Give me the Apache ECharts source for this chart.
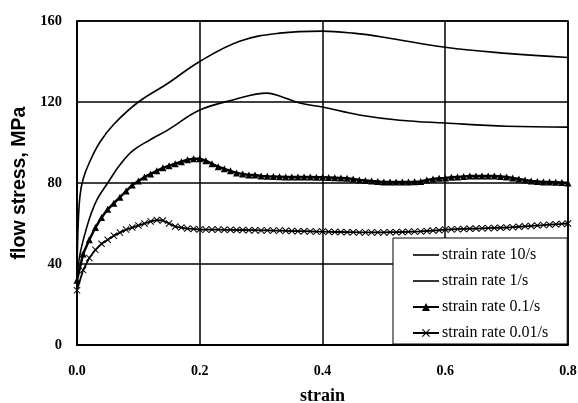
<!DOCTYPE html>
<html><head><meta charset="utf-8">
<script src="https://cdn.jsdelivr.net/npm/echarts@6/dist/echarts.min.js"></script>
<style>html,body{margin:0;padding:0;background:#fff}#c{width:578px;height:403px}</style>
</head><body><div id="c"></div>
<script>
const seriesNames = ['strain rate 10/s','strain rate 1/s','strain rate 0.1/s','strain rate 0.01/s'];
const xTicks = ['0.0','0.2','0.4','0.6','0.8'];
const yTicks = [0,40,80,120,160];

const rate10 = [[0,36],[0.002,60],[0.005,74],[0.01,82],[0.02,90],[0.037,100],[0.06,109],[0.1,120],[0.147,129],[0.2,140],[0.265,150],[0.33,154],[0.4,155],[0.45,154],[0.5,152],[0.6,147],[0.7,144],[0.8,142]];
const rate1 = [[0,34],[0.005,45],[0.013,55],[0.022,64],[0.033,72],[0.05,80],[0.07,89],[0.091,96],[0.12,101.5],[0.147,106],[0.2,116],[0.254,121],[0.31,124.4],[0.33,123],[0.363,119.5],[0.4,117.5],[0.46,113.6],[0.526,111],[0.6,109.6],[0.7,108],[0.8,107.6]];
const strain001 = [];
for (let i = 0; i <= 80; i++) strain001.push(+(i/100).toFixed(2));
const rate01 = [32,45,52,58,63,67,70,73,76,79,81,83,84.5,86,87.5,88.5,89.5,90.5,91.5,92,92,91,89.5,88,87,86,85,84.5,84,84,83.5,83.3,83.2,83.1,83,83,83,83,83,82.9,82.8,82.7,82.6,82.5,82.3,82,81.5,81.2,81,80.8,80.5,80.5,80.5,80.5,80.5,80.6,80.8,81.5,82,82.3,82.5,82.8,83,83.2,83.4,83.5,83.5,83.5,83.4,83.2,83,82.5,82,81.5,81,80.8,80.5,80.5,80.4,80.2,80];
const rate001 = [27,37,43,47,50,52,54,55.5,57,58,59,60,61,61.7,61.5,60,58.5,58,57.5,57.3,57,57,57,57,56.9,56.9,56.8,56.8,56.7,56.7,56.6,56.6,56.5,56.5,56.4,56.3,56.2,56.2,56.1,56,56,55.9,55.8,55.8,55.7,55.7,55.6,55.6,55.6,55.6,55.6,55.7,55.7,55.8,55.9,56,56.1,56.3,56.5,56.7,57,57.1,57.2,57.3,57.4,57.5,57.6,57.7,57.8,57.9,58,58.2,58.4,58.6,58.8,59,59.2,59.4,59.6,59.8,60];

const serif = '"Liberation Serif","DejaVu Serif",serif';
const sans = '"Liberation Sans","DejaVu Sans",sans-serif';
const lineIcon = 'path://M0,0L26,0L26,1.6L0,1.6Z';
const chart = echarts.init(document.getElementById('c'));
chart.setOption({
  animation:false,
  backgroundColor:'#fff',
  grid:{left:77,right:10,top:21,bottom:58,show:true,borderColor:'#000',borderWidth:1.5,
    containLabel:false,outerBoundsMode:'none'},
  xAxis:{type:'value',min:0,max:0.8,interval:0.2,
    name:'strain',nameLocation:'middle',nameGap:42,
    nameTextStyle:{fontFamily:serif,fontWeight:'bold',fontSize:18,color:'#000'},
    axisLine:{lineStyle:{color:'#000',width:1.5}},axisTick:{show:false},
    axisLabel:{fontFamily:serif,fontWeight:'bold',fontSize:14,color:'#000',margin:19,
      formatter:v=>xTicks[Math.round(v/0.2)]},
    splitLine:{show:true,lineStyle:{color:'#000',width:1.5}}},
  yAxis:{type:'value',min:0,max:160,interval:40,
    name:'flow stress, MPa',nameLocation:'middle',nameGap:44,
    nameTextStyle:{fontFamily:sans,fontWeight:'bold',fontSize:19.5,color:'#000'},
    axisLine:{show:true,lineStyle:{color:'#000',width:1.5}},axisTick:{show:false},
    axisLabel:{fontFamily:serif,fontWeight:'bold',fontSize:14.5,color:'#000',margin:15,
      formatter:v=>String(yTicks[Math.round(v/40)])},
    splitLine:{show:true,lineStyle:{color:'#000',width:1.5}}},
  legend:{orient:'vertical',left:393,top:238,
    backgroundColor:'#fff',borderColor:'#000',borderWidth:1,
    padding:[9,19,3,19],itemGap:10,itemWidth:26,itemHeight:10,
    textStyle:{fontFamily:serif,fontSize:16,color:'#000',padding:[0,0,0,-2]},
    data:[{name:seriesNames[0],icon:lineIcon},{name:seriesNames[1],icon:lineIcon},
      {name:seriesNames[2]},{name:seriesNames[3]}]},
  series:[
    {name:seriesNames[0],type:'line',data:rate10,smooth:0.4,showSymbol:false,symbol:'none',
      lineStyle:{color:'#000',width:1.6},itemStyle:{color:'#000'}},
    {name:seriesNames[1],type:'line',data:rate1,smooth:0.4,showSymbol:false,symbol:'none',
      lineStyle:{color:'#000',width:1.6},itemStyle:{color:'#000'}},
    {name:seriesNames[2],type:'line',data:strain001.map((x,i)=>[x,rate01[i]]),
      symbol:'triangle',symbolSize:7,lineStyle:{color:'#000',width:2.5},itemStyle:{color:'#000'}},
    {name:seriesNames[3],type:'line',data:strain001.map((x,i)=>[x,rate001[i]]),
      symbol:'path://M0,1L1,0L5,4L9,0L10,1L6,5L10,9L9,10L5,6L1,10L0,9L4,5Z',symbolSize:7,
      lineStyle:{color:'#000',width:1.8},itemStyle:{color:'#000'}}
  ]
});
</script></body></html>
